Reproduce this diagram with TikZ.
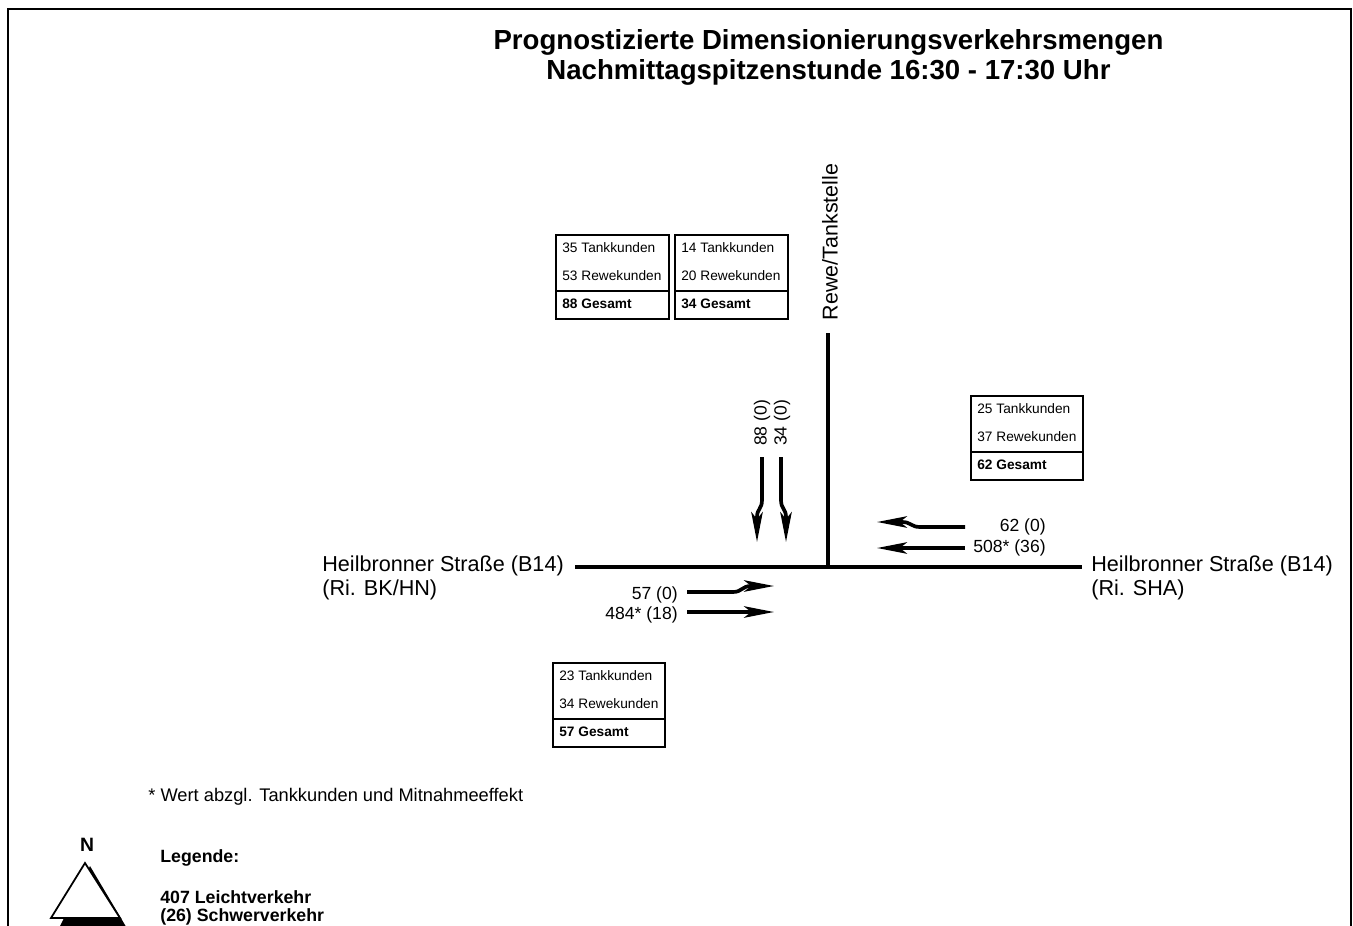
\documentclass[tikz,border=0pt]{standalone}
\usepackage{fontspec}
\setmainfont{Liberation Sans}
\usetikzlibrary{arrows.meta}
\tikzset{
  road/.style={line width=2pt,black},
  flow/.style={-{Stealth[length=17pt,width=6.5pt,inset=4pt]},line width=2.1pt},
  frame/.style={line width=0.6pt,black},
  boxtxt/.style={font=\fontsize{7.8}{9}\selectfont,anchor=west,inner sep=0pt},
  vol/.style={font=\fontsize{10}{12}\selectfont,inner sep=0pt},
  street/.style={font=\fontsize{12.3}{13.7}\selectfont,align=left,inner sep=0pt}
}
% box with tank/rewe/total rows: name, x, y (top left), three values
\newcommand{\kundenbox}[6]{%
  \draw[frame] (#2,#3) rectangle ++(#6,84);
  \draw[frame] (#2,#3+56) -- ++(#6,0);
  \node[boxtxt] (#1a) at (#2+6,#3+13) {#4 Tankkunden};
  \node[boxtxt] (#1b) at (#2+6,#3+41) {#5 Rewekunden};
  \node[boxtxt,font=\fontsize{7.8}{9}\selectfont\bfseries] (#1c) at (#2+6,#3+69) {\the\numexpr#4+#5\relax{} Gesamt};
}

\begin{document}
\begin{tikzpicture}[x=0.02cm,y=-0.02cm]
\useasboundingbox (0,0) rectangle (1353,926);
\draw[line width=1.2pt] (8,950) -- (8,9) -- (1351,9) -- (1351,950);

% title
\node[font=\fontsize{15.7}{17}\selectfont\bfseries,align=center] (title) at (828.5,57)
  {Prognostizierte Dimensionierungsverkehrsmengen\\Nachmittagspitzenstunde 16:30 - 17:30 Uhr};

% roads
\coordinate (w) at (575,567);
\coordinate (e) at (1082,567);
\coordinate (x) at (828,567);
\coordinate (n) at (828,333);
\draw[road] (w) -- (e);
\draw[road] (x) -- (n);
\node[street,anchor=west] (westlbl) at (322,578) {Heilbronner Straße (B14)\\(Ri. BK/HN)};
\node[street,anchor=west] (eastlbl) at (1091,578) {Heilbronner Straße (B14)\\(Ri. SHA)};
\node[font=\fontsize{12.2}{14}\selectfont,rotate=90,inner sep=0pt] (northlbl) at (830,242) {Rewe/Tankstelle};

% customer boxes
\kundenbox{bnl}{556}{235}{35}{53}{113}
\kundenbox{bnr}{675}{235}{14}{20}{113}
\kundenbox{be}{971}{396}{25}{37}{112}
\kundenbox{bw}{553}{663}{23}{34}{112}

% southbound
\coordinate (s1a) at (762,457);
\coordinate (s1b) at (757,542);
\coordinate (s2a) at (781,457);
\coordinate (s2b) at (786,542);
\draw[flow] (s1a) -- (762,500) .. controls (762,509) and (757,509) .. (757,517) -- (s1b);
\draw[flow] (s2a) -- (781,500) .. controls (781,509) and (786,509) .. (786,517) -- (s2b);
\node[vol,rotate=90] (s1lbl) at (762,423) {88 (0)};
\node[vol,rotate=90] (s2lbl) at (782,423) {34 (0)};

% westbound
\coordinate (w1a) at (965,527);
\coordinate (w1b) at (877,522);
\coordinate (w2a) at (965,548);
\coordinate (w2b) at (877,548);
\draw[flow] (w1a) -- (920,527) .. controls (911,527) and (911,522) .. (902,522) -- (w1b);
\draw[flow] (w2a) -- (w2b);
\node[vol,anchor=east] (w1lbl) at (1046,527) {62 (0)};
\node[vol,anchor=east] (w2lbl) at (1046,548) {508* (36)};

% eastbound
\coordinate (e1a) at (687,592);
\coordinate (e1b) at (774,586);
\coordinate (e2a) at (687,612);
\coordinate (e2b) at (774,612);
\draw[flow] (e1a) -- (733,592) .. controls (742,592) and (742,586) .. (751,586) -- (e1b);
\draw[flow] (e2a) -- (e2b);
\node[vol,anchor=east] (e1lbl) at (678,595) {57 (0)};
\node[vol,anchor=east] (e2lbl) at (678,615) {484* (18)};

% footnote and legend
\node[font=\fontsize{10.4}{12}\selectfont,anchor=west,inner sep=0pt] (note) at (148,797) {* Wert abzgl. Tankkunden und Mitnahmeeffekt};
\node[font=\fontsize{10.1}{12}\selectfont\bfseries,anchor=west,inner sep=0pt] (leg) at (160,858) {Legende:};
\node[font=\fontsize{10.1}{10.3}\selectfont\bfseries,anchor=west,align=left,inner sep=0pt] (legtxt) at (160,908) {407 Leichtverkehr\\(26) Schwerverkehr};

% north arrow
\node[font=\fontsize{11}{12}\selectfont\bfseries,inner sep=0pt] (nord) at (87,845) {N};
\fill[black] (90,866) -- (128,930) -- (58,930) -- cycle;
\draw[fill=white,line width=1pt] (85,863) -- (120,918) -- (51,918) -- cycle;
\end{tikzpicture}
\end{document}
